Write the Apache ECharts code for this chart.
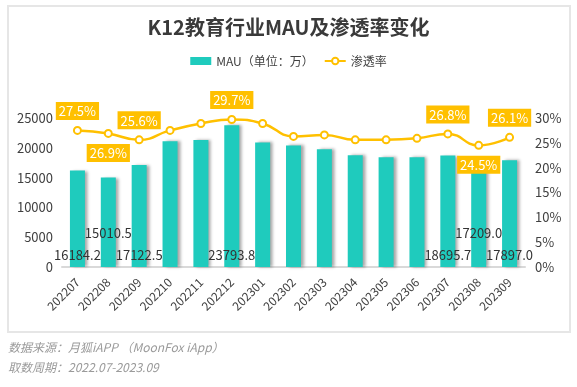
<!DOCTYPE html>
<html>
<head>
<meta charset="utf-8">
<script src="https://cdn.jsdelivr.net/npm/echarts@6/dist/echarts.min.js"></script>
<style>
html,body{margin:0;padding:0;background:#fff;}
#c{width:577px;height:387px;}
</style>
</head>
<body>
<div id="c"></div>
<script>
var months = ['202207','202208','202209','202210','202211','202212','202301','202302','202303','202304','202305','202306','202307','202308','202309'];
var mau = [16184.2, 15010.5, 17122.5, 21100, 21300, 23793.8, 20900, 20400, 19750, 18750, 18400, 18400, 18695.7, 17209.0, 17897.0];
var rate = [27.5, 26.9, 25.6, 27.5, 28.9, 29.7, 28.9, 26.3, 26.6, 25.6, 25.6, 25.9, 26.8, 24.5, 26.1];
var labeledIdx = [0, 1, 2, 5, 12, 13, 14];
var leftTicks = [0, 5000, 10000, 15000, 20000, 25000];
var rightTicks = [0, 5, 10, 15, 20, 25, 30];
var titleText = 'K12教育行业MAU及渗透率变化';
var barName = 'MAU（单位：万）';
var lineName = '渗透率';
var notes = ['数据来源：月狐iAPP （MoonFox iApp）', '取数周期：2022.07-2023.09'];

var FONT = '"Noto Sans CJK SC", "Noto Sans", sans-serif';
var raisedBarLabels = [1, 13];
var belowLineLabels = [1, 13];

var barData = mau.map(function (v, i) {
  var show = labeledIdx.indexOf(i) >= 0;
  return {
    value: v,
    label: {
      show: show,
      offset: raisedBarLabels.indexOf(i) >= 0 ? [0, -22] : [0, 0]
    }
  };
});
var lineData = rate.map(function (v, i) {
  var show = labeledIdx.indexOf(i) >= 0;
  return {
    value: v,
    label: {
      show: show,
      position: belowLineLabels.indexOf(i) >= 0 ? 'bottom' : 'top'
    }
  };
});

var chart = echarts.init(document.getElementById('c'), null, {renderer: 'canvas'});
chart.setOption({
  backgroundColor: '#fff',
  textStyle: {fontFamily: FONT},
  animation: false,
  title: {
    text: titleText,
    left: 'center',
    top: 12,
    textStyle: {fontSize: 20, fontWeight: 'bold', color: '#3a3a3a', fontFamily: FONT}
  },
  legend: {
    top: 50,
    left: 'center',
    itemWidth: 21,
    itemHeight: 8,
    itemGap: 10,
    textStyle: {fontSize: 12, color: '#404040', fontFamily: FONT},
    data: [
      {name: barName, icon: 'rect'},
      {name: lineName}
    ]
  },
  grid: {left: 62, right: 52, top: 118, bottom: 120, containLabel: false},
  xAxis: {
    type: 'category',
    data: months,
    axisTick: {show: false},
    axisLine: {lineStyle: {color: '#d9d9d9', width: 2}},
    axisLabel: {rotate: 45, fontSize: 12, color: '#404040', interval: 0, margin: 13}
  },
  yAxis: [
    {
      type: 'value', min: leftTicks[0], max: leftTicks[leftTicks.length - 1], interval: 5000,
      splitLine: {show: false}, axisLine: {show: false}, axisTick: {show: false},
      axisLabel: {fontSize: 13, color: '#404040', margin: 9, formatter: function (v) { return String(v); }}
    },
    {
      type: 'value', min: rightTicks[0], max: rightTicks[rightTicks.length - 1], interval: 5,
      splitLine: {show: false}, axisLine: {show: false}, axisTick: {show: false},
      axisLabel: {fontSize: 13, color: '#404040', margin: 10, formatter: '{value}%'}
    }
  ],
  series: [
    {
      name: barName,
      type: 'bar',
      barWidth: 15,
      data: barData,
      itemStyle: {
        color: '#1fcbbd',
        shadowColor: 'rgba(0,0,0,0.35)',
        shadowBlur: 3,
        shadowOffsetX: 3,
        shadowOffsetY: 0
      },
      label: {
        position: 'insideBottom',
        distance: 5,
        color: '#333',
        fontSize: 13,
        formatter: function (p) { return p.value.toFixed(1); }
      },
      z: 2
    },
    {
      name: lineName,
      type: 'line',
      yAxisIndex: 1,
      smooth: true,
      data: lineData,
      symbol: 'circle',
      symbolSize: 7,
      lineStyle: {color: '#ffc000', width: 2.5},
      itemStyle: {color: '#fff', borderColor: '#ffc000', borderWidth: 2},
      label: {
        color: '#fff',
        fontSize: 13,
        backgroundColor: '#ffc000',
        padding: [3, 3, 2, 3],
        distance: 6,
        formatter: function (p) { return p.value.toFixed(1) + '%'; }
      },
      z: 5
    }
  ],
  color: ['#1fcbbd', '#ffc000'],
  graphic: [
    {
      type: 'rect',
      shape: {x: 8, y: 6, width: 562, height: 326},
      style: {fill: 'none', stroke: '#e6e6e6', lineWidth: 2},
      silent: true, z: -1
    },
    {
      type: 'text', left: 8, top: 341,
      style: {text: notes[0], fill: '#9a9a9a', font: 'italic 12px ' + FONT}
    },
    {
      type: 'text', left: 8, top: 361,
      style: {text: notes[1], fill: '#9a9a9a', font: 'italic 12px ' + FONT}
    }
  ]
});
</script>
</body>
</html>
